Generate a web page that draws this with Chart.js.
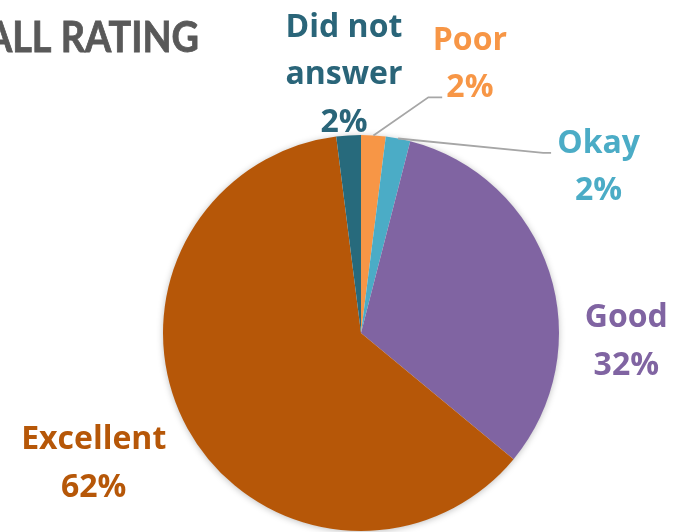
<!DOCTYPE html>
<html>
<head>
<meta charset="utf-8">
<script src="https://cdn.jsdelivr.net/npm/chart.js@4/dist/chart.umd.min.js"></script>
<style>
    html, body { margin: 0; padding: 0; background: #ffffff; }
    #wrap { width: 681px; height: 532px; position: relative; }
</style>
</head>
<body>
<div id="wrap"><canvas id="rating-chart"></canvas></div>
<script>
// Общая оценка — доли ответов
const categories = [['Poor'], ['Okay'], ['Good'], ['Excellent'], ['Did not', 'answer']];
const ratingShares = [2, 2, 32, 62, 2];
const sliceColors = ['#F79646', '#4BACC6', '#8064A2', '#B65708', '#276A7C'];
const labelColors = ['#F79646', '#4BACC6', '#8064A2', '#B65708', '#2A6579'];
const chartTitle = 'OVERALL RATING';

const LABEL_FONT = '"Open Sans", Lato, "DejaVu Sans", sans-serif';
const TITLE_FONT = 'Lato, "Open Sans", "DejaVu Sans", sans-serif';
const LINE_H = 47.5;

// где стоит подпись (центр текста, базовая линия первой строки) относительно центра круга, в радиусах
const labelPlacement = [
    { dx: 0.55, dy: -1.43, leader: { elbow: [0.34, -1.19], end: [0.41, -1.19] } },
    { dx: 1.20, dy: -0.91, leader: { elbow: [0.92, -0.91], end: [0.96, -0.91] } },
    { dx: 1.34, dy: -0.03 },
    { dx: -1.35, dy: 0.586 },
    { dx: -0.086, dy: -1.495 },
];

const pieDecor = {
    id: 'pieDecor',
    beforeDatasetsDraw(chart) {
        const arc = chart.getDatasetMeta(0).data[0];
        if (!arc) return;
        const ctx = chart.ctx;
        ctx.save();
        ctx.shadowColor = 'rgba(0,0,0,0.28)';
        ctx.shadowBlur = 7;
        ctx.shadowOffsetX = 0;
        ctx.shadowOffsetY = 1;
        ctx.fillStyle = '#ffffff';
        ctx.beginPath();
        ctx.arc(arc.x, arc.y, arc.outerRadius - 0.5, 0, Math.PI * 2);
        ctx.fill();
        ctx.restore();
    },
    afterDatasetsDraw(chart) {
        const ctx = chart.ctx;
        const arcs = chart.getDatasetMeta(0).data;
        const values = chart.data.datasets[0].data;

        // заголовок, обрезанный слева (чуть сжат по ширине)
        ctx.save();
        ctx.translate(199, 52);
        ctx.scale(0.9, 1);
        ctx.font = `bold 42px ${TITLE_FONT}`;
        ctx.fillStyle = '#595959';
        ctx.strokeStyle = '#595959';
        ctx.lineWidth = 0.8;
        ctx.textAlign = 'right';
        ctx.textBaseline = 'alphabetic';
        ctx.fillText(chartTitle, 0, 0);
        ctx.strokeText(chartTitle, 0, 0);
        ctx.restore();

        ctx.save();
        arcs.forEach((arc, i) => {
            const r = arc.outerRadius;
            const place = labelPlacement[i];
            const mid = (arc.startAngle + arc.endAngle) / 2;

            if (place.leader) {
                ctx.strokeStyle = '#A6A6A6';
                ctx.lineWidth = 1.8;
                ctx.beginPath();
                ctx.moveTo(arc.x + Math.cos(mid) * r, arc.y + Math.sin(mid) * r);
                ctx.lineTo(arc.x + place.leader.elbow[0] * r, arc.y + place.leader.elbow[1] * r);
                ctx.lineTo(arc.x + place.leader.end[0] * r, arc.y + place.leader.end[1] * r);
                ctx.stroke();
            }

            const lines = [...chart.data.labels[i], `${values[i]}%`];
            const cx = arc.x + place.dx * r;
            const cy = arc.y + place.dy * r;
            ctx.font = `bold 32px ${LABEL_FONT}`;
            ctx.fillStyle = labelColors[i];
            ctx.textAlign = 'center';
            lines.forEach((line, k) => ctx.fillText(line, cx, cy + k * LINE_H));
        });
        ctx.restore();
    },
};

new Chart(document.getElementById('rating-chart'), {
    type: 'pie',
    data: {
        labels: categories,
        datasets: [{
            data: ratingShares,
            backgroundColor: sliceColors,
            borderWidth: 0,
        }],
    },
    options: {
        responsive: true,
        maintainAspectRatio: false,
        animation: false,
        layout: { padding: { top: 135, bottom: 1, left: 163, right: 122 } },
        plugins: {
            legend: { display: false },
            tooltip: { enabled: false },
        },
    },
    plugins: [pieDecor],
});
</script>
</body>
</html>
